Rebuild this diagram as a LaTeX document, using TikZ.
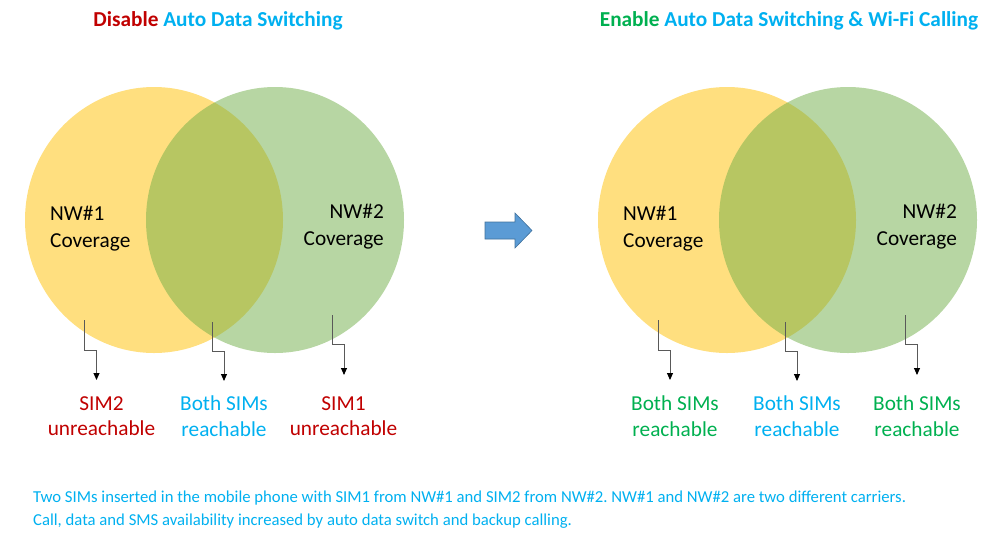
\documentclass[tikz,border=0pt]{standalone}
\usepackage{fontspec}
\setmainfont{Carlito}
\frenchspacing
\usetikzlibrary{arrows.meta}
\definecolor{cyel}{HTML}{FFC000}
\definecolor{cgrn}{HTML}{70AD47}
\definecolor{cred}{HTML}{C00000}
\definecolor{ccyan}{HTML}{00B0F0}
\definecolor{cgreen}{HTML}{00B050}
\definecolor{cblue}{HTML}{5B9BD5}
\definecolor{cblueedge}{HTML}{41719C}
\definecolor{cline}{HTML}{595959}
\begin{document}
\begin{tikzpicture}[x=1pt,y=-1pt,
  yelset/.style={fill=cyel,fill opacity=0.5},
  grnset/.style={fill=cgrn,fill opacity=0.5},
  cover/.style={font=\fontsize{21.3}{27}\selectfont,inner sep=0pt},
  result/.style={font=\fontsize{21.3}{25.5}\selectfont,inner sep=0pt,align=center},
  titletext/.style={font=\fontsize{21.3}{24}\selectfont\bfseries,inner sep=0pt},
  elbow/.style={draw=cline,line width=0.9pt,-{Triangle[length=7pt,width=6pt,color=black]}}
]
\useasboundingbox (0,0) rectangle (999,539);
% titles
\node[titletext] (t1) at (218,21) {\textcolor{cred}{Disable} \textcolor{ccyan}{Auto Data Switching}};
\node[titletext] (t2) at (789,21) {\textcolor{cgreen}{Enable} \textcolor{ccyan}{Auto Data Switching \& Wi-Fi Calling}};
% left venn
\path[yelset] (154,220) ellipse [x radius=129, y radius=133];
\path[grnset] (275,220) ellipse [x radius=129, y radius=133];
% right venn
\path[yelset] (727,220) ellipse [x radius=129, y radius=133];
\path[grnset] (848,220) ellipse [x radius=129, y radius=133];
% coverage labels
\node[cover,align=left,anchor=west] (n1a) at (50,228.5) {NW\#1\\Coverage};
\node[cover,align=right,anchor=east] (n2a) at (384,226.5) {NW\#2\\Coverage};
\node[cover,align=left,anchor=west] (n1b) at (623,228.5) {NW\#1\\Coverage};
\node[cover,align=right,anchor=east] (n2b) at (957,226.5) {NW\#2\\Coverage};
% big arrow
\draw[fill=cblue,draw=cblueedge,line width=0.6pt] (485,222) -- (515,222) -- (515,213) -- (532,230.5) -- (515,248) -- (515,239) -- (485,239) -- cycle;
% connectors
\coordinate (s1) at (84.5,320); \coordinate (e1) at (96.5,380);
\coordinate (s2) at (212,322); \coordinate (e2) at (224,381);
\coordinate (s3) at (332,315); \coordinate (e3) at (344,375);
\coordinate (s4) at (658,320); \coordinate (e4) at (670,380);
\coordinate (s5) at (785,322); \coordinate (e5) at (797,381);
\coordinate (s6) at (905,315); \coordinate (e6) at (917,375);
\draw[elbow] (s1) -- ++(0,30) -| (e1);
\draw[elbow] (s2) -- ++(0,29) -| (e2);
\draw[elbow] (s3) -- ++(0,29) -| (e3);
\draw[elbow] (s4) -- ++(0,30) -| (e4);
\draw[elbow] (s5) -- ++(0,29) -| (e5);
\draw[elbow] (s6) -- ++(0,29) -| (e6);
% result labels
\node[result,text=cred] (r1) at (101.5,416) {SIM2\\unreachable};
\node[result,text=ccyan] (r2) at (224,416) {Both SIMs\\reachable};
\node[result,text=cred] (r3) at (343.5,416) {SIM1\\unreachable};
\node[result,text=cgreen] (r4) at (675,416) {Both SIMs\\reachable};
\node[result,text=ccyan] (r5) at (797,416) {Both SIMs\\reachable};
\node[result,text=cgreen] (r6) at (917,416) {Both SIMs\\reachable};
% footnote
\node[font=\fontsize{16.7}{23}\selectfont,text=ccyan,align=left,anchor=west,inner sep=0pt] (foot) at (33,509.5)
  {Two SIMs inserted in the mobile phone with SIM1 from NW\#1 and SIM2 from NW\#2. NW\#1 and NW\#2 are two different carriers.\\
   Call, data and SMS availability increased by auto data switch and backup calling.};
\end{tikzpicture}
\end{document}
